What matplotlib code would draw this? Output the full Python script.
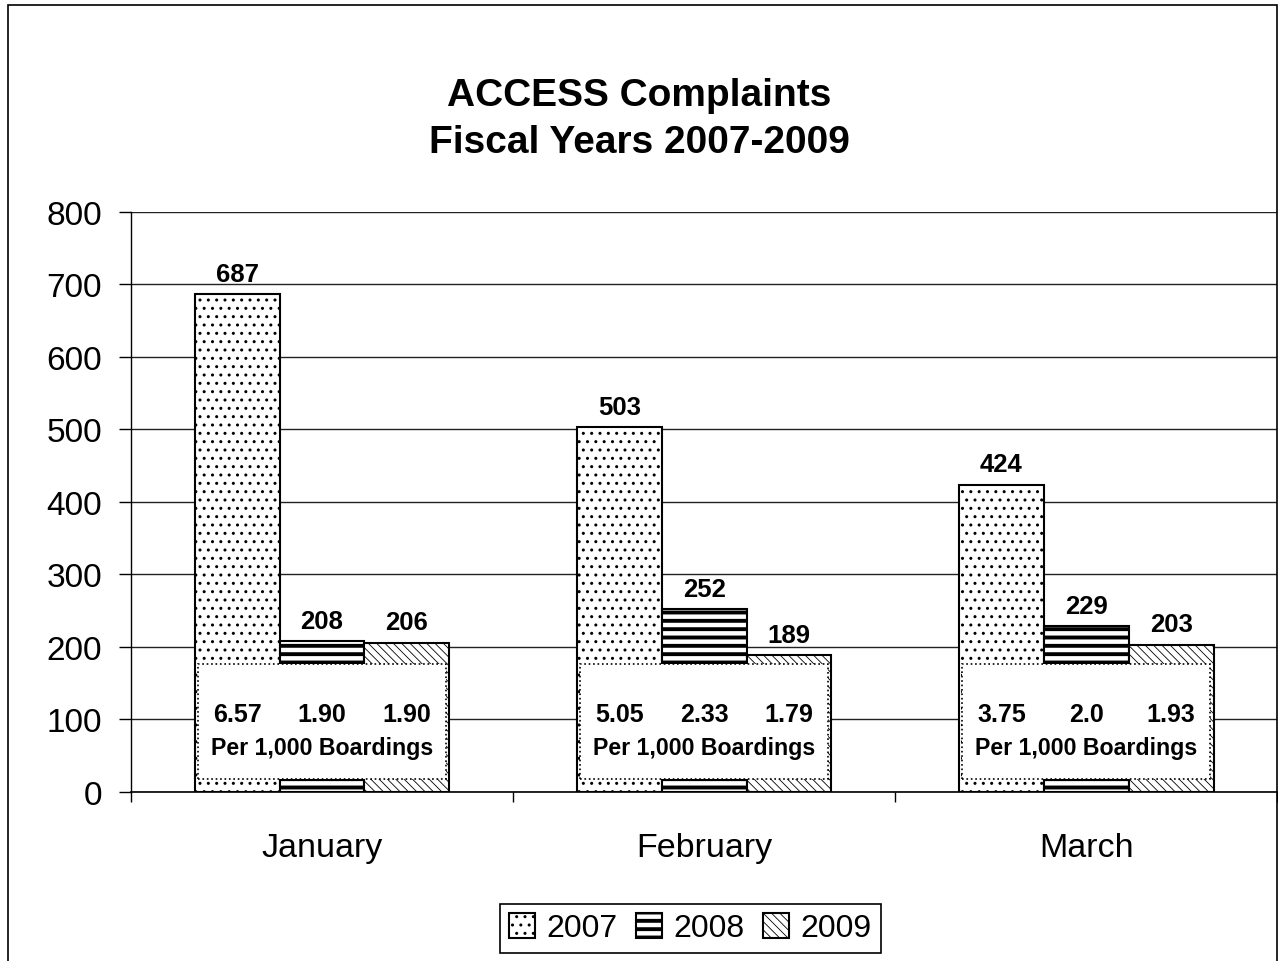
import numpy as np
import matplotlib
matplotlib.use('Agg')
from matplotlib import pyplot as plt
from matplotlib.patches import Rectangle

plt.rcParams['font.family'] = ['Liberation Sans', 'DejaVu Sans']

months = ['January', 'February', 'March']
years = ['2007', '2008', '2009']
complaints = {
    '2007': [687, 503, 424],
    '2008': [208, 252, 229],
    '2009': [206, 189, 203],
}
per_1000 = {
    '2007': ['6.57', '5.05', '3.75'],
    '2008': ['1.90', '2.33', '2.0'],
    '2009': ['1.90', '1.79', '1.93'],
}
hatches = ['..', '--', '\\\\\\\\']
hatch_widths = [1.0, 2.8, 0.6]

fig = plt.figure(figsize=(12.78, 9.62), dpi=100)
ax = fig.add_axes([0.1025, 0.1757, 0.897, 0.6029])

x = np.arange(len(months))
width = 0.222
offsets = [-width, 0, width]

handles = []
for yr, off, h, hw in zip(years, offsets, hatches, hatch_widths):
    with plt.rc_context({'hatch.linewidth': hw, 'hatch.color': 'black'}):
        bars = ax.bar(x + off, complaints[yr], width, facecolor='white',
                      edgecolor='black', linewidth=1.5, hatch=h, zorder=2,
                      label=yr)
    handles.append(bars)
    for xi, v in zip(x + off, complaints[yr]):
        ax.annotate(str(v), (xi, v), xytext=(0, 6), textcoords='offset points',
                    ha='center', va='bottom', fontsize=18.5, fontweight='bold',
                    zorder=5)

# white boxes with the per 1,000 boardings rates
for i in range(len(months)):
    left = x[i] - 1.5 * width + 0.008
    box = Rectangle((left, 18), 3 * width - 0.016, 159, facecolor='white',
                    edgecolor='black', linewidth=1.2, linestyle=':', zorder=3)
    ax.add_patch(box)
    for yr, off in zip(years, offsets):
        ax.text(x[i] + off, 108, per_1000[yr][i], ha='center', va='center',
                fontsize=18, fontweight='bold', zorder=5)
    ax.text(x[i], 62, 'Per 1,000 Boardings', ha='center', va='center',
            fontsize=16.7, fontweight='bold', zorder=5)

ax.set_xlim(-0.5, 2.5)
ax.set_ylim(0, 800)
ax.set_yticks(np.arange(0, 801, 100))
ax.yaxis.grid(True, color='#222222', linewidth=1)
ax.set_axisbelow(True)
ax.set_xticks(x)
ax.set_xticklabels(months)
ax.set_xticks([-0.5, 0.5, 1.5, 2.5], minor=True)
ax.tick_params(axis='x', which='major', length=0, pad=29, labelsize=24.5)
ax.tick_params(axis='x', which='minor', length=7, width=1, direction='out')
ax.tick_params(axis='y', length=9, width=1, pad=12, labelsize=24)
for s in ['top', 'right']:
    ax.spines[s].set_visible(False)
ax.spines['left'].set_linewidth(1)
ax.spines['bottom'].set_linewidth(1.2)

fig.text(0.5, 0.876, 'ACCESS Complaints\nFiscal Years 2007-2009', ha='center',
         va='center', fontsize=28, fontweight='bold', linespacing=1.4)

leg = fig.legend(handles=handles, labels=years, loc='center',
                 bbox_to_anchor=(0.54, 0.034), ncol=3, fontsize=23,
                 handlelength=0.8, handleheight=0.8, handletextpad=0.35,
                 columnspacing=0.6, fancybox=False, edgecolor='black',
                 borderpad=0.3, framealpha=1)
leg.get_frame().set_linewidth(1.2)
for p, hw in zip(leg.get_patches(), hatch_widths):
    if hasattr(p, 'set_hatch_linewidth'):
        p.set_hatch_linewidth(hw)

fig.add_artist(Rectangle((0.0063, -0.01), 0.993, 1.0038, transform=fig.transFigure,
                         fill=False, edgecolor='black', linewidth=1.2))

fig.savefig('out.png', dpi=100)
